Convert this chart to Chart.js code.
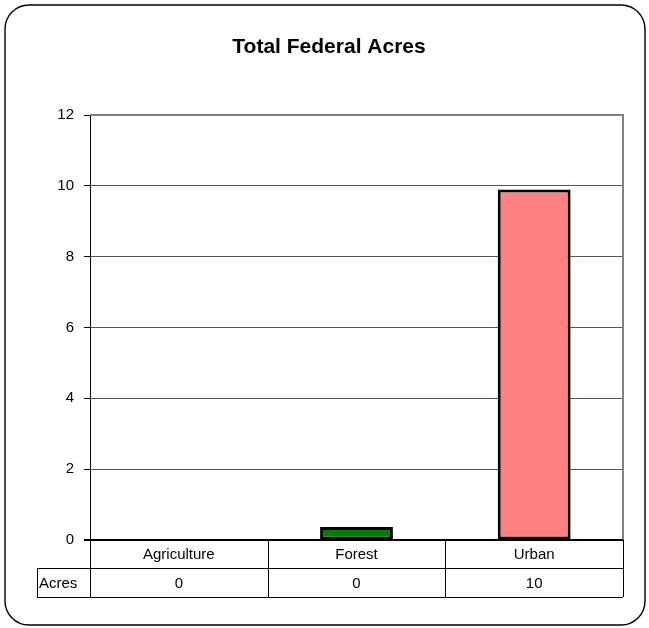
<!DOCTYPE html>
<html>
<head>
<meta charset="utf-8">
<script src="https://cdn.jsdelivr.net/npm/chart.js@4"></script>
<style>
html,body{margin:0;padding:0;background:#fff;}
#wrap{width:649px;height:628px;position:relative;}
</style>
</head>
<body>
<div id="wrap"><canvas id="c" width="649" height="628"></canvas></div>
<script>
const categories = ["Agriculture", "Forest", "Urban"];
const acres = [0, 0.37, 9.9];
const barColors = ["#008000", "#008000", "#FF8080"];
const seriesName = "Acres";
const chartTitle = "Total Federal Acres";
const yTicks = [0, 2, 4, 6, 8, 10, 12];

const FONT = "'Liberation Sans', Arial, sans-serif";

const decor = {
  id: 'decor',
  beforeDraw(chart) {
    const ctx = chart.ctx;
    ctx.save();
    ctx.fillStyle = '#fff';
    ctx.fillRect(0, 0, chart.width, chart.height);
    ctx.beginPath();
    ctx.roundRect(5, 5, 640, 620, 24);
    ctx.strokeStyle = '#000';
    ctx.lineWidth = 1.4;
    ctx.stroke();
    ctx.fillStyle = '#000';
    ctx.font = 'bold 21px ' + FONT;
    ctx.textAlign = 'center';
    ctx.textBaseline = 'alphabetic';
    ctx.fillText(chartTitle, 329, 53);
    ctx.restore();
  },
  afterDraw(chart) {
    const ctx = chart.ctx;
    const a = chart.chartArea;
    const xs = chart.scales.x;
    ctx.save();
    // gray frame top and right
    ctx.strokeStyle = '#808080';
    ctx.lineWidth = 2;
    ctx.beginPath();
    ctx.moveTo(a.left, a.top);
    ctx.lineTo(a.right, a.top);
    ctx.lineTo(a.right, a.bottom);
    ctx.stroke();
    // zero line
    ctx.strokeStyle = '#000';
    ctx.lineWidth = 2;
    ctx.beginPath();
    ctx.moveTo(a.left - 6, a.bottom);
    ctx.lineTo(a.right, a.bottom);
    ctx.stroke();
    // data table
    const n = categories.length;
    const bounds = [];
    for (let i = 0; i < n; i++) {
      const c = xs.getPixelForValue(i);
      const w = (a.right - a.left) / n;
      bounds.push([c - w / 2, c + w / 2]);
    }
    const r1 = a.bottom, r2 = a.bottom + 28, r3 = a.bottom + 57;
    const labelLeft = 37;
    ctx.lineWidth = 1;
    ctx.strokeStyle = '#000';
    ctx.beginPath();
    ctx.moveTo(labelLeft, r2 + 0.5); ctx.lineTo(a.right, r2 + 0.5);
    ctx.moveTo(labelLeft, r3 + 0.5); ctx.lineTo(a.right, r3 + 0.5);
    ctx.moveTo(labelLeft + 0.5, r2); ctx.lineTo(labelLeft + 0.5, r3);
    ctx.moveTo(a.left + 0.5, r1); ctx.lineTo(a.left + 0.5, r3);
    for (let i = 0; i < n; i++) {
      const x = Math.round(bounds[i][1]) + 0.5;
      ctx.moveTo(x, r1); ctx.lineTo(x, r3);
    }
    ctx.stroke();
    ctx.fillStyle = '#000';
    ctx.font = '15px ' + FONT;
    ctx.textBaseline = 'middle';
    ctx.textAlign = 'center';
    for (let i = 0; i < n; i++) {
      const cx = (bounds[i][0] + bounds[i][1]) / 2;
      ctx.fillText(categories[i], cx, (r1 + r2) / 2 + 1);
      ctx.fillText(String(Math.round(acres[i])), cx, (r2 + r3) / 2 + 1);
    }
    ctx.textAlign = 'left';
    ctx.fillText(seriesName, labelLeft + 2, (r2 + r3) / 2 + 1);
    ctx.restore();
  }
};

new Chart(document.getElementById('c'), {
  type: 'bar',
  data: {
    labels: categories,
    datasets: [{
      label: seriesName,
      data: acres,
      backgroundColor: barColors,
      borderColor: '#000',
      borderWidth: 3,
      borderSkipped: false,
      categoryPercentage: 1,
      barPercentage: 0.41
    }]
  },
  options: {
    responsive: false,
    animation: false,
    events: [],
    layout: { padding: { left: 0, right: 26, top: 115, bottom: 88 } },
    plugins: {
      legend: { display: false },
      title: { display: false },
      tooltip: { enabled: false }
    },
    scales: {
      x: {
        display: false,
        grid: { display: false }
      },
      y: {
        min: 0,
        max: 12,
        afterFit(s) { s.width = 90; },
        afterBuildTicks(s) { s.ticks = yTicks.map(v => ({ value: v })); },
        border: { display: true, color: '#000', width: 1 },
        grid: {
          color: '#555',
          lineWidth: 1,
          drawTicks: true,
          tickLength: 6,
          tickColor: '#000'
        },
        ticks: {
          color: '#000',
          padding: 10,
          font: { family: FONT, size: 15 }
        }
      }
    }
  },
  plugins: [decor]
});
</script>
</body>
</html>
